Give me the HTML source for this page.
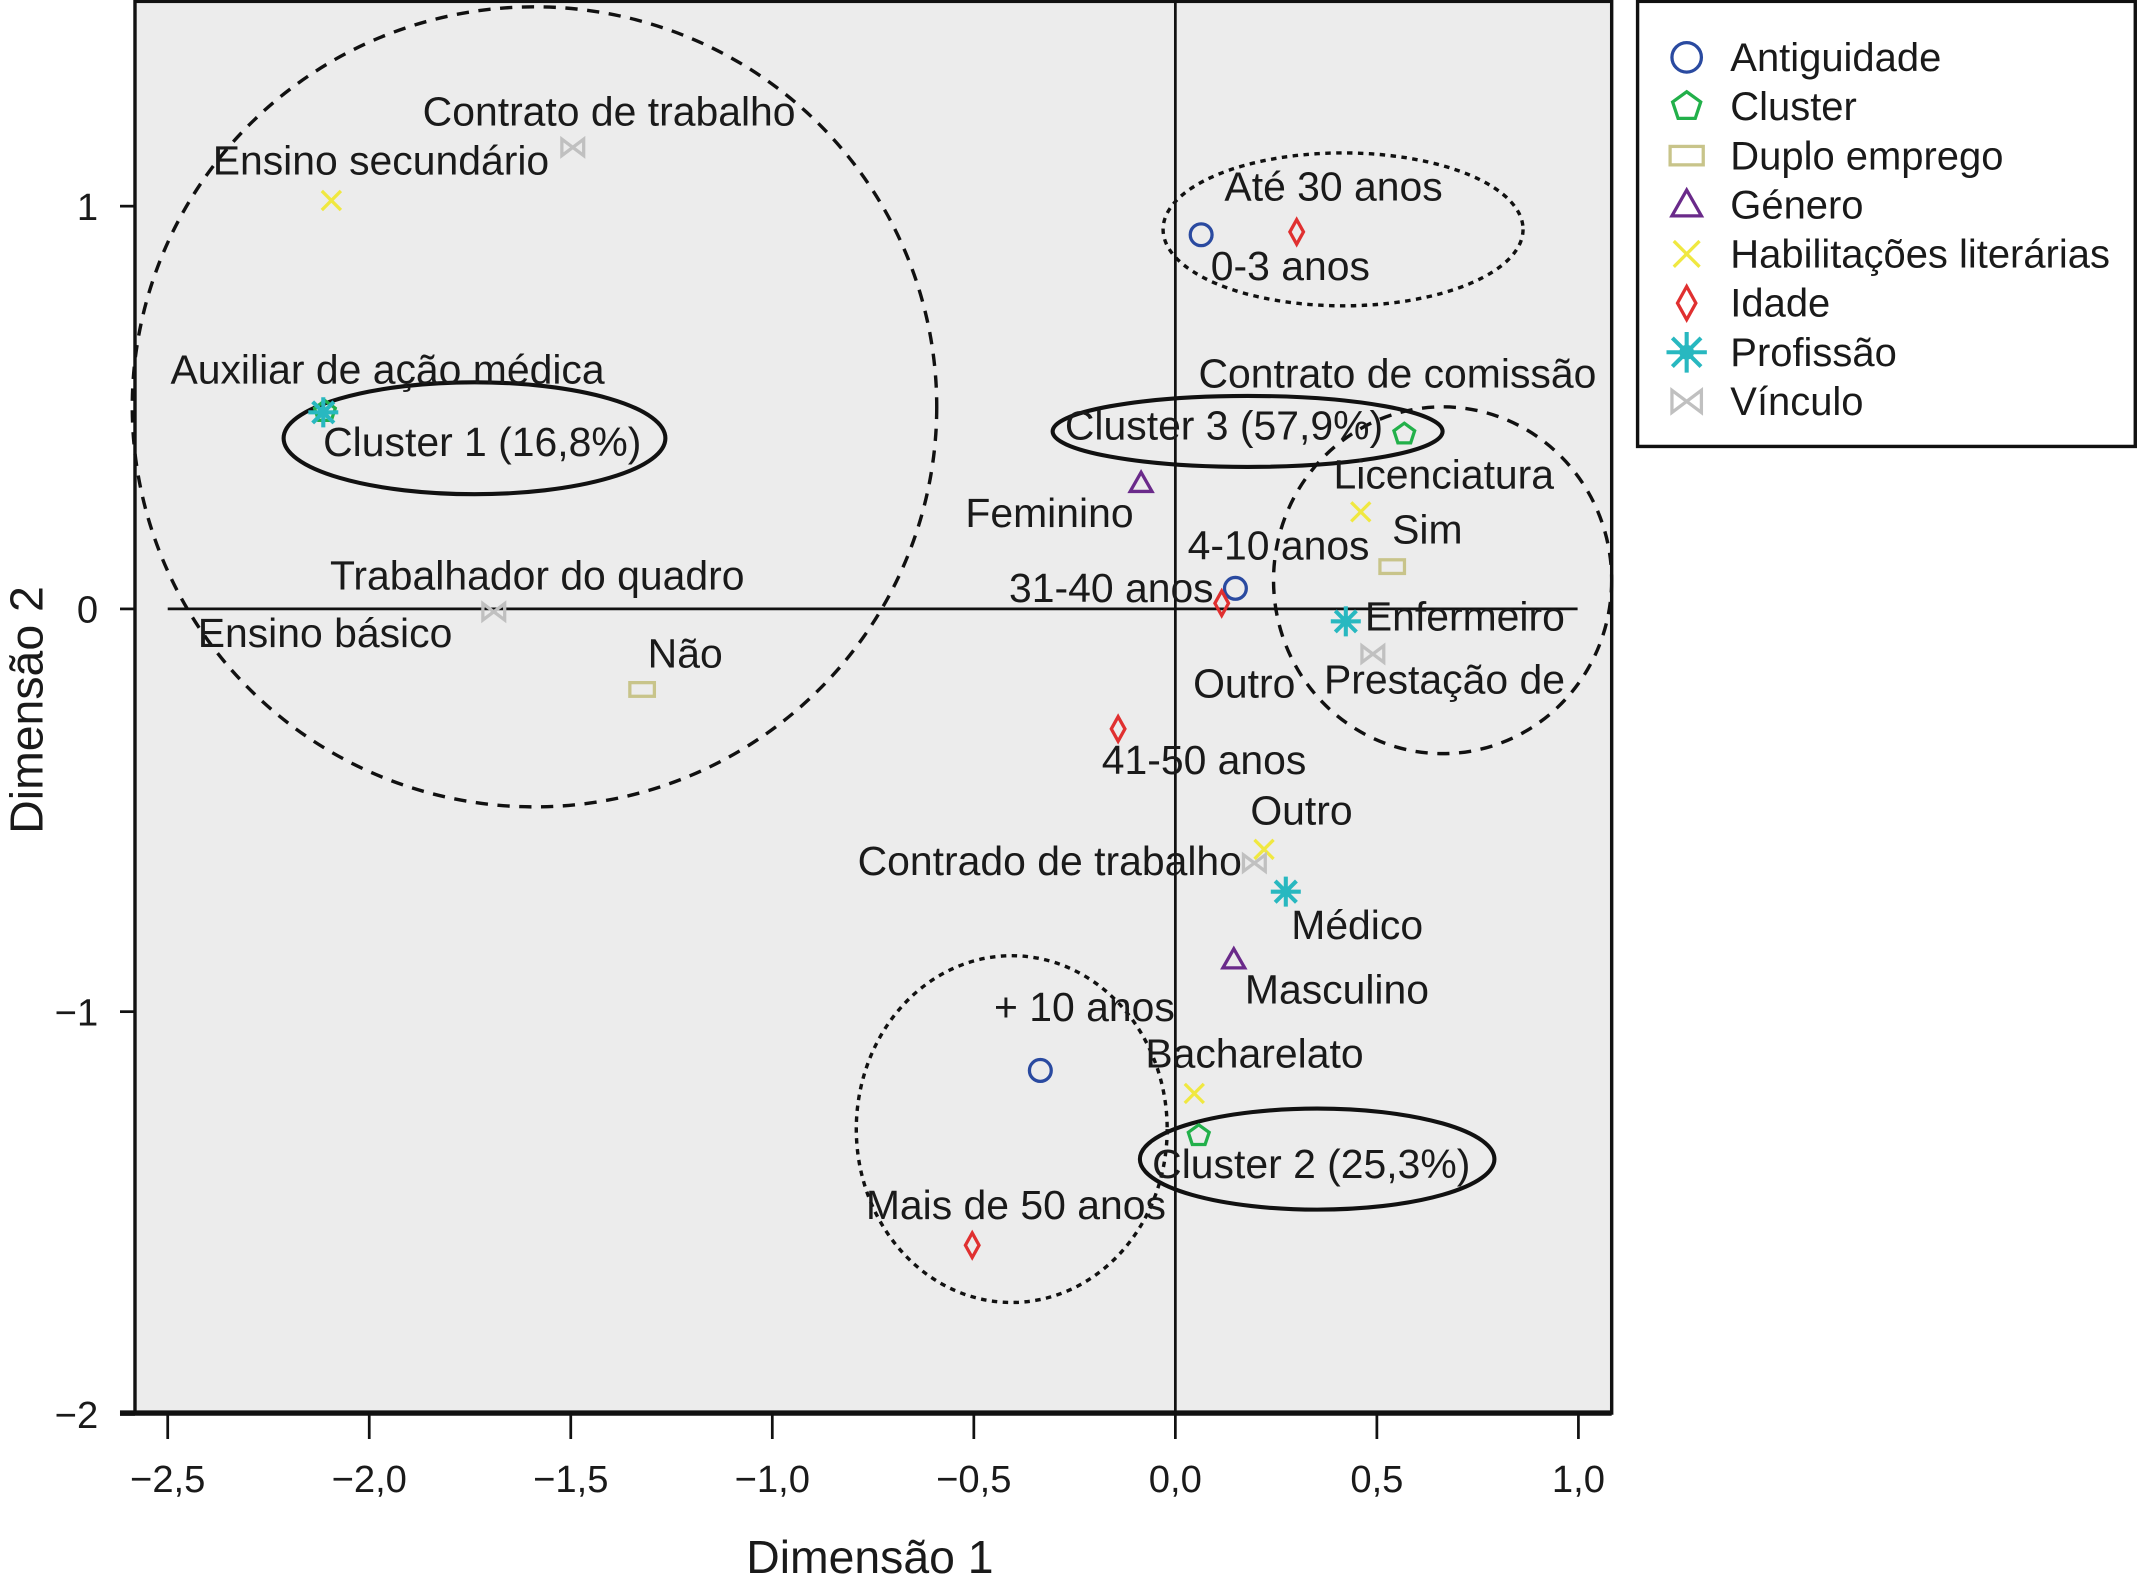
<!DOCTYPE html>
<html><head><meta charset="utf-8"><style>
html,body{margin:0;padding:0;background:#fff;}
svg{display:block;font-family:"Liberation Sans",Arial,sans-serif;}
</style></head><body>
<svg id="chart" width="2138" height="1596" viewBox="0 0 1568 1169" preserveAspectRatio="none" xmlns="http://www.w3.org/2000/svg">
<rect x="99" y="1" width="1083" height="1034" fill="#ececec" stroke="#111" stroke-width="2.5"/>
<line x1="88" y1="1035" x2="1182" y2="1035" stroke="#111" stroke-width="4"/>
<g id="ticks"></g>
<line x1="123" y1="446" x2="1157" y2="446" stroke="#111" stroke-width="2"/>
<line x1="862" y1="1" x2="862" y2="1035" stroke="#111" stroke-width="2"/>
<g fill="none" stroke="#111" stroke-width="2.5">
<ellipse cx="392" cy="298" rx="295" ry="293" stroke-dasharray="9,7"/>
<ellipse cx="348" cy="321" rx="140" ry="41" stroke-width="3"/>
<ellipse cx="985" cy="168" rx="132" ry="56" stroke-dasharray="4,4"/>
<ellipse cx="915" cy="316" rx="143" ry="26" stroke-width="3"/>
<ellipse cx="1058" cy="425" rx="124" ry="127" stroke-dasharray="9,7"/>
<ellipse cx="742" cy="827" rx="114" ry="127" stroke-dasharray="4,4"/>
<ellipse cx="966" cy="849" rx="130" ry="37" stroke-width="3"/>
</g>
<g id="marks"></g>
<g font-size="30" fill="#1a1a1a" dominant-baseline="middle">
<text x="310" y="84">Contrato de trabalho</text>
<text x="156" y="120">Ensino secundário</text>
<text x="898" y="139">Até 30 anos</text>
<text x="888" y="197">0-3 anos</text>
<text x="125" y="273">Auxiliar de ação médica</text>
<text x="879" y="276">Contrato de comissão</text>
<text x="237" y="326">Cluster 1 (16,8%)</text>
<text x="781" y="314">Cluster 3 (57,9%)</text>
<text x="978" y="350">Licenciatura</text>
<text x="708" y="378">Feminino</text>
<text x="1021" y="390">Sim</text>
<text x="871" y="402">4-10 anos</text>
<text x="242" y="424">Trabalhador do quadro</text>
<text x="740" y="433">31-40 anos</text>
<text x="1001" y="454">Enfermeiro</text>
<text x="145" y="466">Ensino básico</text>
<text x="475" y="481">Não</text>
<text x="875" y="503">Outro</text>
<text x="971" y="500">Prestação de</text>
<text x="808" y="559">41-50 anos</text>
<text x="917" y="596">Outro</text>
<text x="629" y="633">Contrado de trabalho</text>
<text x="947" y="680">Médico</text>
<text x="913" y="727">Masculino</text>
<text x="729" y="740">+ 10 anos</text>
<text x="840" y="774">Bacharelato</text>
<text x="845" y="855">Cluster 2 (25,3%)</text>
<text x="635" y="885">Mais de 50 anos</text>
</g>
<text x="638" y="1152" font-size="34" text-anchor="middle" fill="#1a1a1a">Dimensão 1</text>
<text transform="translate(31,520) rotate(-90)" font-size="34" text-anchor="middle" fill="#1a1a1a">Dimensão 2</text>
<rect x="1201" y="1" width="365" height="326" fill="#fff" stroke="#111" stroke-width="2.5"/>
<g id="legend"></g>
</svg>
<script>
const NS='http://www.w3.org/2000/svg';
const xTicks=[-2.5,-2.0,-1.5,-1.0,-0.5,0.0,0.5,1.0];
const xTickLabels=['\u22122,5','\u22122,0','\u22121,5','\u22121,0','\u22120,5','0,0','0,5','1,0'];
const yTicks=[1,0,-1,-2];
const yTickLabels=['1','0','\u22121','\u22122'];
const seriesNames=['Antiguidade','Cluster','Duplo emprego','Género','Habilitações literárias','Idade','Profissão','Vínculo'];
const seriesColors=['#2a4aa0','#22b04a','#c8c48a','#6a2a8a','#f0e840','#e03030','#28b8c0','#c0c0c0'];
const seriesShapes=['circle','pentagon','rect','triangle','x','diamond','star','bowtie'];
const antiguidadeX=[0.064,0.149,-0.335]; const antiguidadeY=[0.929,0.051,-1.146];
const clusterX=[-2.11,0.568,0.058]; const clusterY=[0.49,0.434,-1.308];
const duploX=[0.538,-1.323]; const duploY=[0.105,-0.2];
const generoX=[-0.085,0.145]; const generoY=[0.312,-0.871];
const habilX=[-2.094,0.46,0.22,0.047]; const habilY=[1.014,0.241,-0.597,-1.203];
const idadeX=[0.301,0.115,-0.142,-0.504]; const idadeY=[0.936,0.014,-0.298,-1.58];
const profX=[-2.114,0.423,0.274]; const profY=[0.488,-0.031,-0.702];
const vincX=[-1.495,-1.691,0.49,0.196]; const vincY=[1.146,-0.007,-0.112,-0.631];
const allX=[antiguidadeX,clusterX,duploX,generoX,habilX,idadeX,profX,vincX];
const allY=[antiguidadeY,clusterY,duploY,generoY,habilY,idadeY,profY,vincY];
function sx(v){return 862+v*295.6;}
function sy(v){return 446-v*295;}
function mk(tag,attrs,parent){const e=document.createElementNS(NS,tag);for(const k in attrs)e.setAttribute(k,attrs[k]);parent.appendChild(e);return e;}
const ticks=document.getElementById('ticks');
xTicks.forEach((v,i)=>{
  const t=mk('line',{x1:sx(v),x2:sx(v),y1:1035,y2:1054,stroke:'#111','stroke-width':2},ticks);
  
  
  const l=mk('text',{x:sx(v),y:1093,'font-size':28,'text-anchor':'middle',fill:'#1a1a1a'},ticks);
  l.textContent=xTickLabels[i];
  
  
});
yTicks.forEach((v,i)=>{
  const t=mk('line',{x1:88,x2:99,y1:sy(v),y2:sy(v),stroke:'#111','stroke-width':2},ticks);
  
  
  const l=mk('text',{x:72,y:sy(v)+10,'font-size':28,'text-anchor':'end',fill:'#1a1a1a'},ticks);
  l.textContent=yTickLabels[i];
  
  
});
function drawShape(shape,x,y,c,parent,s){
  s=s||1;let e;
  const st={fill:'none',stroke:c,'stroke-width':2.4};
  if(shape==='circle'){e=mk('circle',Object.assign({cx:x,cy:y,r:8*s},st),parent);}
  else if(shape==='pentagon'){let p=[];for(let k=0;k<5;k++){const a=-Math.PI/2+k*2*Math.PI/5;p.push((x+8*s*Math.cos(a)).toFixed(1)+','+(y+8*s*Math.sin(a)).toFixed(1));}e=mk('polygon',Object.assign({points:p.join(' ')},st),parent);}
  else if(shape==='rect'){e=mk('rect',Object.assign({x:x-9*s,y:y-5*s,width:18*s,height:10*s},st),parent);}
  else if(shape==='triangle'){e=mk('polygon',Object.assign({points:`${x},${y-8*s} ${x-8*s},${y+6*s} ${x+8*s},${y+6*s}`},st),parent);}
  else if(shape==='x'){e=mk('path',Object.assign({d:`M${x-7*s},${y-7*s}L${x+7*s},${y+7*s}M${x+7*s},${y-7*s}L${x-7*s},${y+7*s}`},st),parent);}
  else if(shape==='diamond'){e=mk('polygon',Object.assign({points:`${x},${y-9*s} ${x+5*s},${y} ${x},${y+9*s} ${x-5*s},${y}`},st),parent);}
  else if(shape==='star'){let d='';for(let k=0;k<8;k++){const a=k*Math.PI/4;d+=`M${x},${y}L${(x+11*s*Math.cos(a)).toFixed(1)},${(y+11*s*Math.sin(a)).toFixed(1)}`;}e=mk('path',{d:d,stroke:c,'stroke-width':3,fill:'none'},parent);mk('circle',{cx:x,cy:y,r:4*s,fill:c},parent);}
  else {e=mk('path',Object.assign({d:`M${x-8*s},${y-6*s}L${x+8*s},${y+6*s}L${x+8*s},${y-6*s}L${x-8*s},${y+6*s}Z`},st),parent);}
  return e;
}
const marks=document.getElementById('marks');
allX.forEach((xs,si)=>{
  xs.forEach((xv,j)=>{
    const e=drawShape(seriesShapes[si],sx(xv),sy(allY[si][j]),seriesColors[si],marks,1);
    
    
  });
});
const legend=document.getElementById('legend');
seriesNames.forEach((n,i)=>{
  const y=42+i*36;
  const e=drawShape(seriesShapes[i],1237,y,seriesColors[i],legend,1.35);
  
  
  const t=mk('text',{x:1269,y:y+10,'font-size':29.3,fill:'#1a1a1a'},legend);
  t.textContent=n;
  
  
});
</script>
</body></html>
